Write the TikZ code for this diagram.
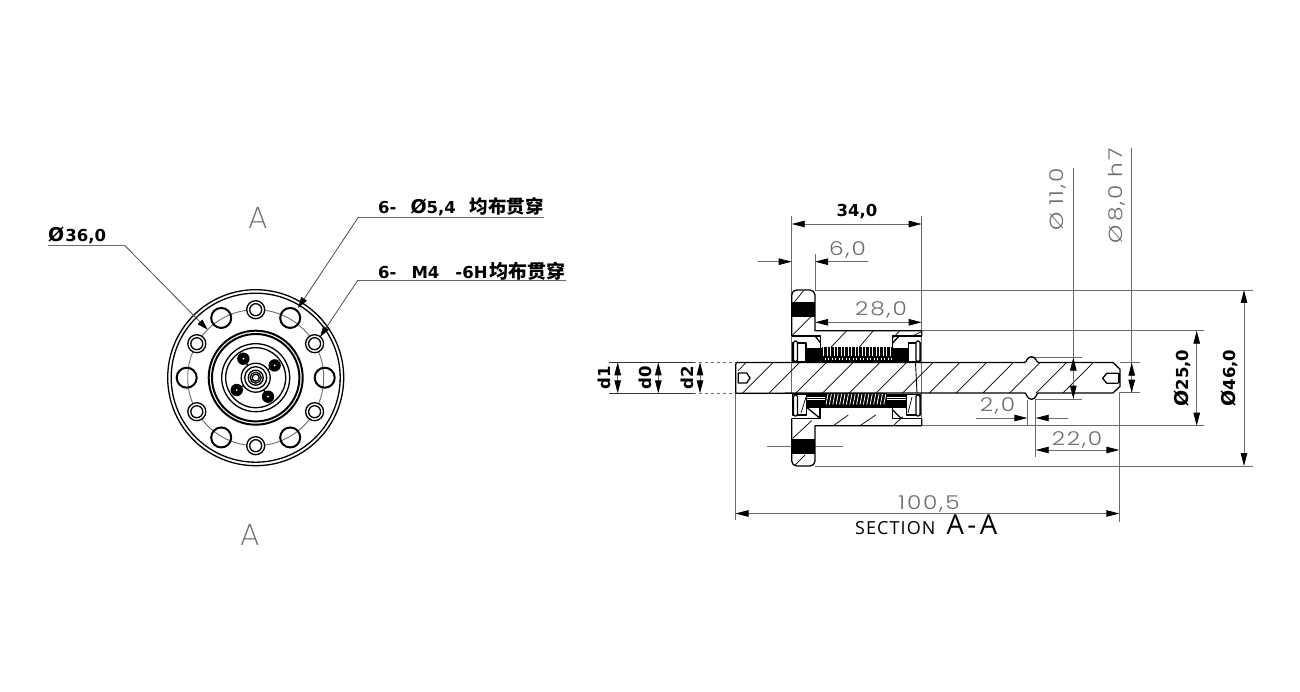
\documentclass[tikz,border=0pt]{standalone}
\usepackage{fontspec}
\setmainfont{DejaVu Sans}
\newfontfamily\cjk{Noto Sans CJK SC}
\newfontfamily\thinfont[LetterSpace=10,FakeStretch=1.22]{Poppins Light}
\newfontfamily\viewfont{Poppins ExtraLight}
\newfontfamily\plainfont[LetterSpace=6]{Open Sans}
\usepackage{tikz}
\usetikzlibrary{positioning,arrows.meta}
\definecolor{dimgray}{gray}{0.42}
\newcommand{\diasign}{{\fontsize{19}{20}\selectfont Ø}}
\tikzset{
part/.style={draw=black, line width=1.3pt, line join=round},
thick part/.style={draw=black, line width=2pt},
hatchline/.style={draw=black, line width=0.7pt},
extline/.style={draw=dimgray, line width=0.9pt},
dimline/.style={draw=dimgray, line width=0.9pt, {Triangle[black,length=13pt,width=6.5pt]}-{Triangle[black,length=13pt,width=6.5pt]}},
pointer/.style={draw=dimgray, line width=0.9pt, -{Triangle[black,length=13pt,width=6.5pt]}},
leader/.style={draw=black!70, line width=0.8pt, -{Triangle[black,length=11pt,width=6.5pt]}},
boldtext/.style={font=\fontsize{16.5}{18}\selectfont\bfseries, inner sep=0pt},
thintext/.style={font=\fontsize{19}{20}\selectfont\thinfont, text=dimgray, inner sep=0pt},
viewtext/.style={font=\fontsize{31}{32}\selectfont\viewfont, text=dimgray, inner sep=0pt, anchor=base}
}
\begin{document}
\begin{tikzpicture}[x=1pt,y=-1pt]
\useasboundingbox (0,0) rectangle (1300,692);
% front view
\begin{scope}[shift={(255.7,377.7)}]
\draw[part] (0,0) circle (88);
\draw[part] (0,0) circle (84.5);
\draw[extline] (0,0) circle (68);
\foreach \a in {0,60,...,300}
  \draw[thick part] (\a:69) circle (10);
\foreach \a in {30,90,...,330} {
  \draw[part,fill=white] (\a:68) circle (9);
  \draw[part] (\a:68) circle (6);
}
\draw[thick part] (0,0) circle (47);
\draw[thick part] (0,0) circle (43.7);
\draw[part] (0,0) circle (34);
\draw[part] (0,0) circle (30);
\foreach \a in {-33,57,147,237} {
  \draw[part] (0,0) -- (\a:22);
  \fill[black] (\a:22.6) circle (6.2);
  \fill[white] (\a:22.6) circle (1);
}
\draw[part,fill=white] (0,0) circle (14.5);
\draw[part] (0,0) circle (11);
\draw[part] (0,0) circle (7.5);
\draw[part] (0,0) circle (5.5);
\draw[part] (0,0) circle (3.5);
\end{scope}
\node[viewtext] (sectop) at (258.3,228.3) {A};
\node[viewtext] (secbot) at (250.3,545) {A};
% leaders
\node[boldtext, anchor=base west] (pcd) at (48,242) {\diasign\kern1pt 36,0};
\node[boldtext, anchor=base west] (thru) at (378,214) {6-\hspace{14pt}\diasign 5,4\hspace{14pt}{\cjk\fontsize{18.5}{20}\selectfont 均布贯穿}};
\node[boldtext, anchor=base west] (thread) at (378,278.3) {6-\hspace{15pt}M4\hspace{16pt}-6H\hspace{2pt}{\cjk\fontsize{19}{20}\selectfont 均布贯穿}};
\coordinate (pcdend) at (48,245.7);
\coordinate (pcdknee) at (125,245.7);
\coordinate (pcdtip) at (207.7,329.7);
\coordinate (thruend) at (544,217.3);
\coordinate (thruknee) at (358.3,217.3);
\coordinate (thrutip) at (298,308);
\coordinate (threadend) at (565.7,280);
\coordinate (threadknee) at (358,280);
\coordinate (threadtip) at (320,337);
\draw[extline] (pcdend) -- (pcdknee);
\draw[leader] (pcdknee) -- (pcdtip);
\draw[extline] (thruend) -- (thruknee);
\draw[leader] (thruknee) -- (thrutip);
\draw[extline] (threadend) -- (threadknee);
\draw[leader] (threadknee) -- (threadtip);
% section: extension lines
\draw[extline] (791.7,216) -- (791.7,393);
\draw[extline] (921.7,216) -- (921.7,426);
\draw[extline] (815,254) -- (815,290);
\draw[extline] (815,290) -- (1252.5,290);
\draw[extline] (815,466) -- (1252.5,466);
\draw[extline] (921.7,330.7) -- (1204.3,330.7);
\draw[extline] (921.7,425.7) -- (1204.3,425.7);
\draw[extline] (735.5,393) -- (735.5,520);
\draw[extline] (1119.3,392) -- (1119.3,521.7);
\draw[extline] (1073.3,168) -- (1073.3,399);
\draw[extline] (1131.7,148) -- (1131.7,392.7);
\draw[extline] (1031,357) -- (1081.7,357);
\draw[extline] (1036,399) -- (1081.7,399);
\draw[extline] (1120,362.7) -- (1140,362.7);
\draw[extline] (1120,392.7) -- (1140,392.7);
\draw[extline] (1027.3,400) -- (1027.3,426);
\draw[extline] (1035.7,399) -- (1035.7,456.7);
\draw[extline] (766.7,446) -- (842.7,446);
% section: d lines
\draw[black!80, line width=0.9pt] (609.3,362.3) -- (693,362.3);
\draw[black!80, line width=0.9pt] (609.3,393.3) -- (693,393.3);
\draw[dimgray, line width=0.9pt, dashed] (693,362.3) -- (735.7,362.3);
\draw[dimgray, line width=0.9pt, dashed] (693,393.3) -- (735.7,393.3);
% section: hatching
\foreach \k in {0,...,12}
  \draw[hatchline] ({773+26.7*\k},362.5) -- ({742.5+26.7*\k},393);
\foreach \xa/\ya/\xb/\yb in {803.3/291/792.7/304, 814.3/313.3/792.7/335,
  846.7/330.7/830/348.3, 873.3/330.7/858.3/348.3, 900/330.7/892.7/338, 921/332/912/336,
  848.3/415/833.3/425.7, 875.7/415/860/425.7, 902.7/416.7/893.3/425.7,
  811.7/420.7/792.7/438.3, 805/455/795/465, 746/362.5/738/371}
  \draw[hatchline] (\xa,\ya) -- (\xb,\yb);
% section: shaft
\draw[part] [rounded corners=2pt] (735.7,393.2) -- (735.7,362.5) [sharp corners] -- (1024.5,362.5)
  .. controls (1027,362.5) and (1026.5,356.7) .. (1031.5,356.7)
  .. controls (1036.5,356.7) and (1036,362.5) .. (1038.5,362.5)
  -- (1113,362.5) -- (1120,369.3) -- (1120,386.4) -- (1113,392.9) -- (1038.5,392.9)
  .. controls (1036,392.9) and (1036.5,399.3) .. (1031.5,399.3)
  .. controls (1026.5,399.3) and (1027,392.9) .. (1024.5,392.9) -- (735.7,393.2);
\draw[part] (738.3,373) -- (746.7,373) -- (750,378) -- (746.7,383) -- (738.3,383) -- cycle;
\draw[part] (1118.3,373.3) -- (1106.7,373.3) -- (1102.7,378.3) -- (1106.7,383.3) -- (1118.3,383.3);
\fill[black] (1117.5,373.3) rectangle (1120,383.3);
\draw[line width=0.9pt] (915.5,362.5) -- (917,393);
% section: body
\fill[black] (791.7,301.7) rectangle (815,316.7);
\fill[black] (791.7,439.3) rectangle (815,454);
\draw[part] (791.7,336) -- (791.7,295) [rounded corners=5pt] -- (791.7,290) -- (815,290) -- (815,300) [sharp corners] -- (815,330.7) -- (921.7,330.7) -- (921.7,336);
\draw[part] (791.7,418.3) -- (791.7,461) [rounded corners=5pt] -- (791.7,466) -- (815,466) -- (815,456) [sharp corners] -- (815,425.7) -- (921.7,425.7) -- (921.7,418.3);
\draw[part] (791.7,336) -- (820.7,336) -- (820.7,348.3);
\draw[part] (815,336) -- (820.7,343);
\draw[part] (921.7,336) -- (892.7,336) -- (892.7,348.3);
\draw[part] (892.7,343) -- (899,336);
\draw[part] (791.7,418.3) -- (820,418.3) -- (820,408);
\draw[part] (806.7,407.3) -- (820,418.3);
\draw[part] (921.7,418.3) -- (892.7,418.3) -- (892.7,408);
\draw[part] (892.7,410) -- (901,418.3);
% section: nuts
\fill[black] (806,348.3) rectangle (908.3,362.3);
\fill[black] (821.7,346.7) rectangle (892.7,350);
\foreach \k in {0,...,19}
  \draw[white, line width=0.8pt] ({823.5+3.5*\k},347) -- ({823.5+3.5*\k},355.5);
\foreach \k in {0,...,19}
  \draw[white, line width=0.8pt] ({825+3.5*\k},358) -- ({825+3.5*\k},360);
\fill[black] (806.7,393.5) rectangle (906.7,396.5);
\fill[black] (806.7,400) rectangle (906.7,408.3);
\draw[black, line width=1pt] (806.7,398.5) -- (825,398.5);
\draw[black, line width=1pt] (887,398.5) -- (906.7,398.5);
\fill[black] (825,393.3) rectangle (887,408.3);
\foreach \k in {0,...,17}
  \draw[white, line width=0.8pt] ({828+3.4*\k},394) -- ({826+3.4*\k},404.5);
% section: bearings
\draw[part, fill=white] (792.7,343) rectangle (806,361.5);
\draw[part, fill=white] (908.3,343) rectangle (920,361.5);
\draw[part, fill=white] (792.7,394.5) rectangle (806.7,415);
\draw[part, fill=white] (906.7,394.5) rectangle (920,415);
\draw[hatchline] (806,397) -- (801,413);
\draw[hatchline] (912,397) -- (908,413);
\foreach \x in {795.5,918} {
  \draw[part, fill=white, rounded corners=1.5pt] (\x-2,341) rectangle (\x+2,361.5);
  \draw[part, fill=white, rounded corners=1.5pt] (\x-2,395) rectangle (\x+2,416);
}
% section: dimensions
\draw[dimline] (791.7,224) -- (921.7,224);
\node[boldtext, anchor=base] (len) at (857,216.5) {34,0};
\coordinate (flangeL) at (758.3,261.7);
\coordinate (flangeR) at (868.3,261.7);
\draw[pointer] (flangeL) -- (791.7,261.7);
\draw[pointer] (flangeR) -- (815,261.7);
\node[thintext, anchor=base] (flange) at (847.5,255.7) {6,0};
\draw[dimline] (815,322.3) -- (921.7,322.3);
\node[thintext, anchor=base] (hub) at (881,316) {28,0};
\draw[dimline] (735.5,513.5) -- (1119.3,513.5);
\node[thintext, anchor=base] (total) at (929,509) {100,5};
\draw[dimline] (1035.7,450) -- (1119.3,450);
\node[thintext, anchor=base] (tail) at (1077,445) {22,0};
\coordinate (grooveL) at (976,418);
\coordinate (grooveR) at (1068.3,418);
\draw[pointer] (grooveL) -- (1027.3,418);
\draw[pointer] (grooveR) -- (1035.7,418);
\node[thintext, anchor=base] (groove) at (997.5,411.7) {2,0};
\draw[dimline] (1196.7,330.7) -- (1196.7,425.7);
\node[boldtext, rotate=90, anchor=base] (dia25) at (1188,378) {\diasign 25,0};
\draw[dimline] (1244,290) -- (1244,466);
\node[boldtext, rotate=90, anchor=base] (dia46) at (1235,378) {\diasign 46,0};
\draw[dimline] (1073.3,357.7) -- (1073.3,398.7);
\node[thintext, rotate=90, anchor=east] (dia11) at (1058,168) {Ø\hspace{7pt}11,0};
\draw[dimline] (1131.7,362.7) -- (1131.7,392.7);
\node[thintext, rotate=90, anchor=east] (dia8) at (1117,148) {Ø\hspace{3pt}8,0 h7};
\draw[dimline] (617.7,362.3) -- (617.7,393.3);
\node[boldtext, rotate=90, anchor=base] (dA) at (610,378) {d1};
\draw[dimline] (658.3,362.3) -- (658.3,393.3);
\node[boldtext, rotate=90, anchor=base] (dB) at (651,378) {d0};
\draw[dimline] (700,362.3) -- (700,393.3);
\node[boldtext, rotate=90, anchor=base] (dC) at (693,378) {d2};
\node[anchor=base west, inner sep=0pt, font=\plainfont] (title) at (855,534.3) {\fontsize{18}{20}\selectfont SECTION\hspace{11pt}\fontsize{27.5}{28}\selectfont A\kern3.5pt-\kern3.5pt A};
\end{tikzpicture}
\end{document}
